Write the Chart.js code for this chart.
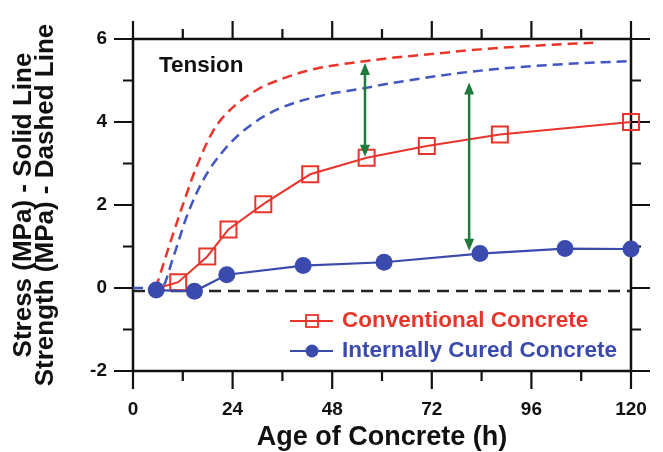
<!DOCTYPE html>
<html>
<head>
<meta charset="utf-8">
<script src="https://cdn.jsdelivr.net/npm/chart.js@4.4.0/dist/chart.umd.min.js"></script>
<style>
  html, body { margin: 0; padding: 0; background: #fff; }
  #wrap { width: 663px; height: 452px; }
</style>
</head>
<body>
<div id="wrap"><canvas id="chart"></canvas></div>
<script>
// stress (solid lines, with markers)
const ageConv = [6, 10.9, 17.9, 23.0, 31.4, 42.7, 56.3, 70.8, 88.4, 120];
const stressConv = [0, 0.14, 0.76, 1.41, 2.02, 2.74, 3.14, 3.42, 3.70, 4.0];
const ageIC = [5.6, 14.8, 22.6, 41.0, 60.5, 83.6, 104.1, 120];
const stressIC = [-0.05, -0.08, 0.32, 0.54, 0.62, 0.83, 0.95, 0.94];

// strength (dashed lines)
const ageConvStr = [5.5, 8.9, 12.1, 15.3, 19.4, 23.4, 29.8, 36.2, 44.3, 54.7, 61.9, 70, 83.6, 97, 110.9];
const strengthConv = [0, 1.07, 2.03, 2.92, 3.80, 4.29, 4.77, 5.05, 5.29, 5.45, 5.54, 5.62, 5.75, 5.84, 5.91];
const ageICStr = [0, 6.9, 9.7, 12.9, 16.9, 22.6, 29.0, 35.4, 44.3, 55.5, 61.9, 81.2, 99.7, 119.8];
const strengthIC = [0, 0.02, 0.74, 1.71, 2.60, 3.40, 3.97, 4.33, 4.61, 4.81, 4.93, 5.21, 5.37, 5.47];

// zero reference line
const zeroAge = [0, 120];
const zeroVal = [-0.07, -0.07];

// green double arrows
const arrowAge = [55.9, 81.0];
const arrowTop = [5.42, 4.95];
const arrowBottom = [3.16, 0.9];

const legendNames = ['Conventional Concrete', 'Internally Cured Concrete'];

const RED = '#e8352b';
const BLUE = '#3a4aad';
const BLUE_DASH = '#4256c2';
const GREEN = '#1d7a3a';
const FONT = "'Liberation Sans', Arial, sans-serif";

Chart.defaults.font.family = FONT;
Chart.defaults.color = '#111';

function pts(xs, ys) {
  return xs.map((x, i) => ({ x: x, y: ys[i] }));
}

// frame with outward ticks on all four sides
const framePlugin = {
  id: 'frame',
  beforeDatasetsDraw(chart) {
    const ctx = chart.ctx;
    const ca = chart.chartArea;
    const xs = chart.scales.x, ys = chart.scales.y;
    ctx.save();
    ctx.strokeStyle = '#111';
    ctx.lineWidth = 2.5;
    ctx.strokeRect(ca.left, ca.top, ca.right - ca.left, ca.bottom - ca.top);
    ctx.lineWidth = 2.2;
    xs.ticks.forEach(t => {
      const px = xs.getPixelForValue(t.value);
      const len = t.value % 24 === 0 ? 18 : 10;
      ctx.beginPath();
      ctx.moveTo(px, ca.bottom); ctx.lineTo(px, ca.bottom + len);
      ctx.moveTo(px, ca.top); ctx.lineTo(px, ca.top - len);
      ctx.stroke();
    });
    ys.ticks.forEach(t => {
      const py = ys.getPixelForValue(t.value);
      const len = t.value % 2 === 0 ? 19 : 10;
      ctx.beginPath();
      ctx.moveTo(ca.left, py); ctx.lineTo(ca.left - len, py);
      ctx.moveTo(ca.right, py); ctx.lineTo(ca.right + len, py);
      ctx.stroke();
    });
    ctx.restore();
  }
};

function arrowHead(ctx, x, y, dir) {
  ctx.beginPath();
  ctx.moveTo(x, y);
  ctx.lineTo(x - 5, y + dir * 12);
  ctx.lineTo(x + 5, y + dir * 12);
  ctx.closePath();
  ctx.fill();
}

const notesPlugin = {
  id: 'notes',
  afterDatasetsDraw(chart) {
    const ctx = chart.ctx;
    const ca = chart.chartArea;
    const xs = chart.scales.x, ys = chart.scales.y;
    ctx.save();

    // arrows
    ctx.strokeStyle = GREEN;
    ctx.fillStyle = GREEN;
    ctx.lineWidth = 2.5;
    arrowAge.forEach((a, i) => {
      const px = xs.getPixelForValue(a);
      const top = ys.getPixelForValue(arrowTop[i]);
      const bot = ys.getPixelForValue(arrowBottom[i]);
      ctx.beginPath();
      ctx.moveTo(px, top + 8);
      ctx.lineTo(px, bot - 8);
      ctx.stroke();
      arrowHead(ctx, px, top, 1);
      arrowHead(ctx, px, bot, -1);
    });

    // "Tension"
    ctx.fillStyle = '#111';
    ctx.font = 'bold 22.5px ' + FONT;
    ctx.textBaseline = 'middle';
    ctx.textAlign = 'left';
    ctx.fillText('Tension', ca.left + 26, ca.top + 27);

    // legend
    const lx = ca.left + 157;
    const rows = [ca.top + 282, ca.top + 312];
    const cols = [RED, BLUE];
    ctx.font = 'bold 22.5px ' + FONT;
    rows.forEach((ry, i) => {
      ctx.strokeStyle = cols[i];
      ctx.lineWidth = 2;
      ctx.beginPath();
      ctx.moveTo(lx, ry); ctx.lineTo(lx + 43, ry);
      ctx.stroke();
      if (i === 0) {
        ctx.lineWidth = 1.8;
        ctx.strokeRect(lx + 16, ry - 6, 12, 12);
      } else {
        ctx.fillStyle = BLUE;
        ctx.beginPath();
        ctx.arc(lx + 22, ry, 6.5, 0, Math.PI * 2);
        ctx.fill();
      }
      ctx.fillStyle = cols[i];
      ctx.fillText(legendNames[i], lx + 52, ry);
    });
    ctx.restore();
  }
};

new Chart(document.getElementById('chart'), {
  type: 'line',
  data: {
    datasets: [
      {
        label: 'Internally Cured Concrete',
        data: pts(ageIC, stressIC),
        borderColor: BLUE,
        backgroundColor: BLUE,
        borderWidth: 2.2,
        pointRadius: 8.5,
        pointStyle: 'circle',
        pointBorderWidth: 0,
        clip: false,
      },
      {
        label: 'Conventional Concrete',
        data: pts(ageConv, stressConv),
        borderColor: RED,
        backgroundColor: 'transparent',
        borderWidth: 2,
        pointRadius: ageConv.map((a, i) => i === 0 ? 0 : 11.3),
        pointStyle: 'rect',
        pointBorderWidth: 2,
        clip: false,
      },
      {
        label: 'Conventional strength',
        data: pts(ageConvStr, strengthConv),
        borderColor: RED,
        borderWidth: 2.5,
        borderDash: [10, 6],
        pointRadius: 0,
        cubicInterpolationMode: 'monotone',
      },
      {
        label: 'Internally cured strength',
        data: pts(ageICStr, strengthIC),
        borderColor: BLUE_DASH,
        borderWidth: 2.5,
        borderDash: [10, 6],
        pointRadius: 0,
        cubicInterpolationMode: 'monotone',
      },
      {
        label: 'zero',
        data: pts(zeroAge, zeroVal),
        borderColor: '#222',
        borderWidth: 2.5,
        borderDash: [12, 7],
        pointRadius: 0,
      },
    ]
  },
  options: {
    responsive: true,
    maintainAspectRatio: false,
    animation: false,
    layout: { padding: { top: 39, right: 32, left: 0, bottom: 0 } },
    plugins: {
      legend: { display: false },
      tooltip: { enabled: false },
    },
    scales: {
      x: {
        type: 'linear',
        min: 0,
        max: 120,
        grid: { display: false, drawTicks: false },
        border: { display: false },
        ticks: {
          stepSize: 12,
          autoSkip: false,
          maxRotation: 0,
          padding: 27,
          color: '#111',
          font: { size: 19, weight: 'bold' },
          callback: v => (v % 24 === 0 ? v : ''),
        },
        title: {
          display: true,
          text: 'Age of Concrete (h)',
          color: '#111',
          font: { size: 27, weight: 'bold', lineHeight: 1 },
          padding: { top: 0, bottom: 1 },
        },
        afterFit(scale) {
          scale.height = 81;
          scale.paddingLeft = 0;
          scale.paddingRight = 0;
        },
      },
      y: {
        type: 'linear',
        min: -2,
        max: 6,
        grid: { display: false, drawTicks: false },
        border: { display: false },
        ticks: {
          stepSize: 1,
          autoSkip: false,
          padding: 26,
          color: '#111',
          font: { size: 19, weight: 'bold' },
          callback: v => (v % 2 === 0 ? v : ''),
        },
        title: {
          display: true,
          text: ['Stress (MPa) - Solid Line', 'Strength (MPa) - Dashed Line'],
          color: '#111',
          font: { size: 26, weight: 'bold', lineHeight: 0.85 },
          padding: { top: 13, bottom: 0 },
        },
        afterFit(scale) {
          scale.width = 133;
          scale.paddingTop = 0;
          scale.paddingBottom = 0;
        },
      },
    },
  },
  plugins: [framePlugin, notesPlugin],
});
</script>
</body>
</html>
